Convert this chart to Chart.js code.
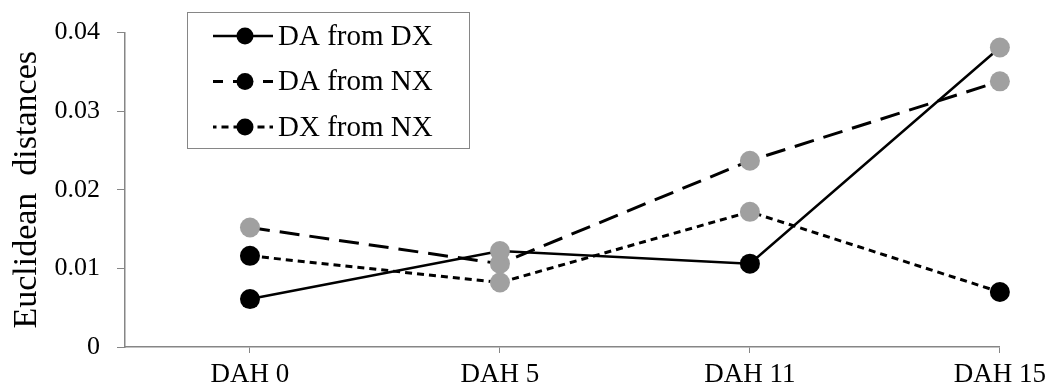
<!DOCTYPE html>
<html>
<head>
<meta charset="utf-8">
<script src="https://cdn.jsdelivr.net/npm/chart.js@4/dist/chart.umd.min.js"></script>
<style>
  html, body { margin: 0; padding: 0; background: #fff; }
  #wrap { width: 1052px; height: 392px; }
</style>
</head>
<body>
<div id="wrap"><canvas id="chart"></canvas></div>
<script>
// Data
const categories = ['DAH 0', 'DAH 5', 'DAH 11', 'DAH 15'];
const seriesNames = ['DA from DX', 'DA from NX', 'DX from NX'];
const daFromDx = [0.0061, 0.0122, 0.0106, 0.0381];
const daFromNx = [0.0152, 0.0106, 0.0237, 0.0338];
const dxFromNx = [0.0116, 0.0082, 0.0172, 0.0070];
const yTickLabels = ['0', '0.01', '0.02', '0.03', '0.04'];

const BLACK = '#000000';
const GRAY = '#a0a0a0';
const AXIS = '#868686';
const FONT = '"Liberation Serif", "Times New Roman", serif';

function points(values) {
    return values.map((v, i) => ({ x: i, y: v }));
}

// Custom legend: line + marker, inside a box
const boxLegend = {
    id: 'boxLegend',
    afterDraw(chart, args, opts) {
        const ctx = chart.ctx;
        ctx.save();
        ctx.strokeStyle = AXIS;
        ctx.lineWidth = 1;
        ctx.strokeRect(opts.x + 0.5, opts.y + 0.5, opts.w, opts.h);
        chart.data.datasets.forEach((ds, i) => {
            const y = opts.y + 24 + i * 45.5;
            ctx.beginPath();
            ctx.setLineDash(ds.borderDash || []);
            ctx.lineDashOffset = ds.borderDash ? ds.borderDash[0] / 2 : 0;
            ctx.lineWidth = ds.borderWidth;
            ctx.strokeStyle = BLACK;
            ctx.moveTo(opts.x + 26, y);
            ctx.lineTo(opts.x + 86, y);
            ctx.stroke();
            ctx.setLineDash([]);
            ctx.beginPath();
            ctx.fillStyle = BLACK;
            ctx.arc(opts.x + 58, y, 8.5, 0, Math.PI * 2);
            ctx.fill();
            ctx.font = '29px ' + FONT;
            ctx.textBaseline = 'middle';
            ctx.fillText(ds.label, opts.x + 91, y + 1);
        });
        ctx.restore();
    }
};

new Chart(document.getElementById('chart'), {
    type: 'line',
    data: {
        datasets: [
            {
                label: seriesNames[0],
                data: points(daFromDx),
                borderColor: BLACK,
                borderWidth: 2.5,
                pointBackgroundColor: [BLACK, GRAY, BLACK, GRAY],
                pointBorderWidth: 0,
                pointRadius: 10
            },
            {
                label: seriesNames[1],
                data: points(daFromNx),
                borderColor: BLACK,
                borderWidth: 3,
                borderDash: [20, 10],
                pointBackgroundColor: [GRAY, GRAY, GRAY, GRAY],
                pointBorderWidth: 0,
                pointRadius: 10
            },
            {
                label: seriesNames[2],
                data: points(dxFromNx),
                borderColor: BLACK,
                borderWidth: 3,
                borderDash: [7, 5],
                pointBackgroundColor: [BLACK, GRAY, GRAY, BLACK],
                pointBorderWidth: 0,
                pointRadius: 10
            }
        ]
    },
    options: {
        responsive: true,
        maintainAspectRatio: false,
        animation: false,
        clip: false,
        layout: { padding: { left: 0, top: 31, right: 49, bottom: 0 } },
        plugins: {
            legend: { display: false },
            tooltip: { enabled: false },
            boxLegend: { x: 187, y: 12, w: 282, h: 136 }
        },
        scales: {
            x: {
                type: 'linear',
                min: -0.5,
                max: categories.length - 1,
                afterBuildTicks(scale) {
                    scale.ticks = categories.map((_, i) => ({ value: i }));
                },
                afterFit(scale) { scale.height = 45; },
                grid: { drawOnChartArea: false, drawTicks: true, tickLength: 6, color: AXIS },
                border: { color: AXIS, width: 1.5 },
                ticks: {
                    color: BLACK,
                    padding: 6,
                    font: { family: FONT, size: 27 },
                    maxRotation: 0,
                    callback: (v) => categories[v]
                }
            },
            y: {
                min: 0,
                max: 0.04,
                afterBuildTicks(scale) {
                    scale.ticks = yTickLabels.map((_, i) => ({ value: i * 0.01 }));
                },
                afterFit(scale) { scale.width = 125; },
                grid: { drawOnChartArea: false, drawTicks: true, tickLength: 8, color: AXIS },
                border: { color: AXIS, width: 1.5 },
                ticks: {
                    color: BLACK,
                    padding: 17,
                    font: { family: FONT, size: 26 },
                    callback: (v, i) => yTickLabels[i]
                },
                title: {
                    display: true,
                    text: 'Euclidean  distances',
                    color: BLACK,
                    font: { family: FONT, size: 34 },
                    padding: { top: 7, bottom: 0 }
                }
            }
        }
    },
    plugins: [boxLegend]
});
</script>
</body>
</html>
